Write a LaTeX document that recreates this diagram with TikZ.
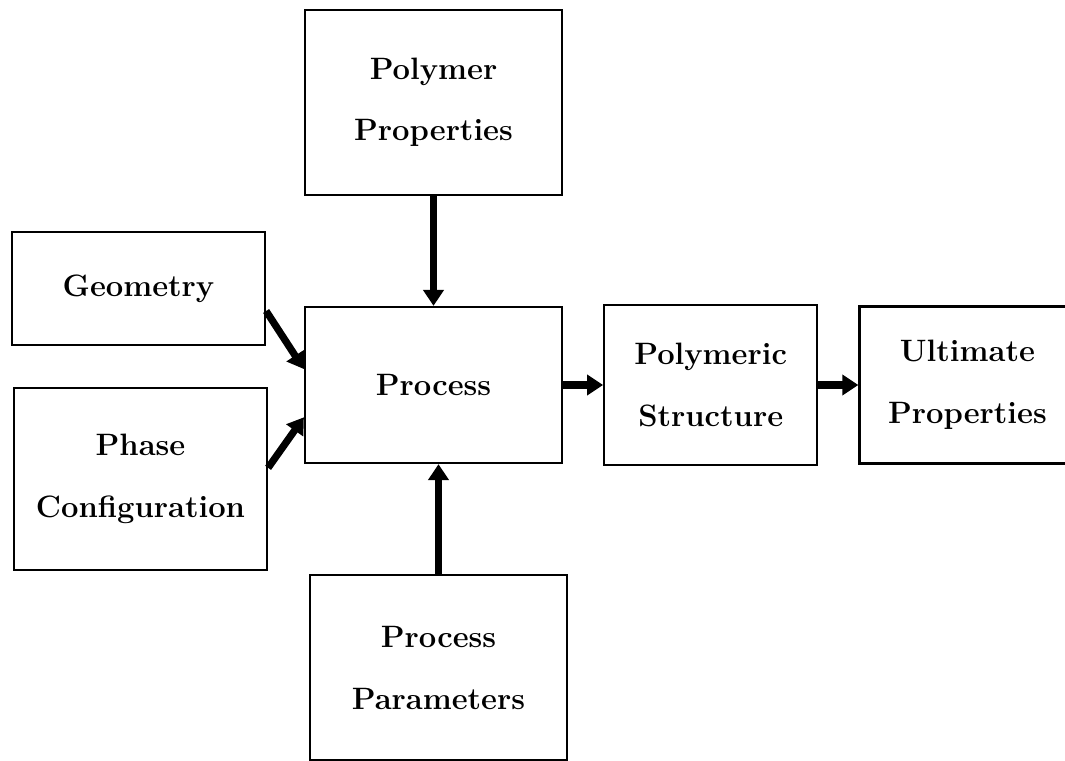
\documentclass[tikz,border=0pt]{standalone}
\usetikzlibrary{positioning,arrows.meta}

\tikzset{
  block/.style={draw, rectangle, line width=0.55mm, align=center,
    font={\fontsize{22}{44}\selectfont\bfseries}},
  flow/.style={-{Triangle[length=4mm,width=5mm]}, line width=1.8mm}
}

\begin{document}
\begin{tikzpicture}[x=0.25mm, y=-0.25mm]
		\useasboundingbox (0,0) rectangle (1065,761);

		% Nodes
		\node[block, minimum width=64.25mm, minimum height=39mm] (proc) at (433.5,385) {Process};
		\node[block, minimum width=64.25mm, minimum height=46.25mm, above=27.5mm of proc] (props) {Polymer\\Properties};
		\node[block, minimum width=64.25mm, minimum height=46.25mm, below=27.5mm of proc, xshift=1.25mm] (params) {Process\\Parameters};
		\node[block, minimum width=53.25mm, minimum height=40mm, right=10mm of proc] (struct) {Polymeric\\Structure};
		\node[block, minimum width=54mm, minimum height=39.25mm, right=10mm of struct] (ult) {Ultimate\\Properties};
		\node[block, minimum width=63.25mm, minimum height=28.25mm] (geom) at (138.5,288.5) {Geometry};
		\node[block, minimum width=63.25mm, minimum height=45.5mm] (phase) at (140.5,479) {Phase\\Configuration};

		% Arrows
		\draw[flow] (props.south) -- (props.south |- proc.north);
		\draw[flow] (params.north) -- (params.north |- proc.south);
		\draw[flow] (geom.-10) -- (proc.173);
		\draw[flow] (phase.5) -- (proc.194);
		\draw[flow] (proc.east) -- (proc.east -| struct.west);
		\draw[flow] (struct.east) -- (struct.east -| ult.west);
	\end{tikzpicture}
\end{document}
